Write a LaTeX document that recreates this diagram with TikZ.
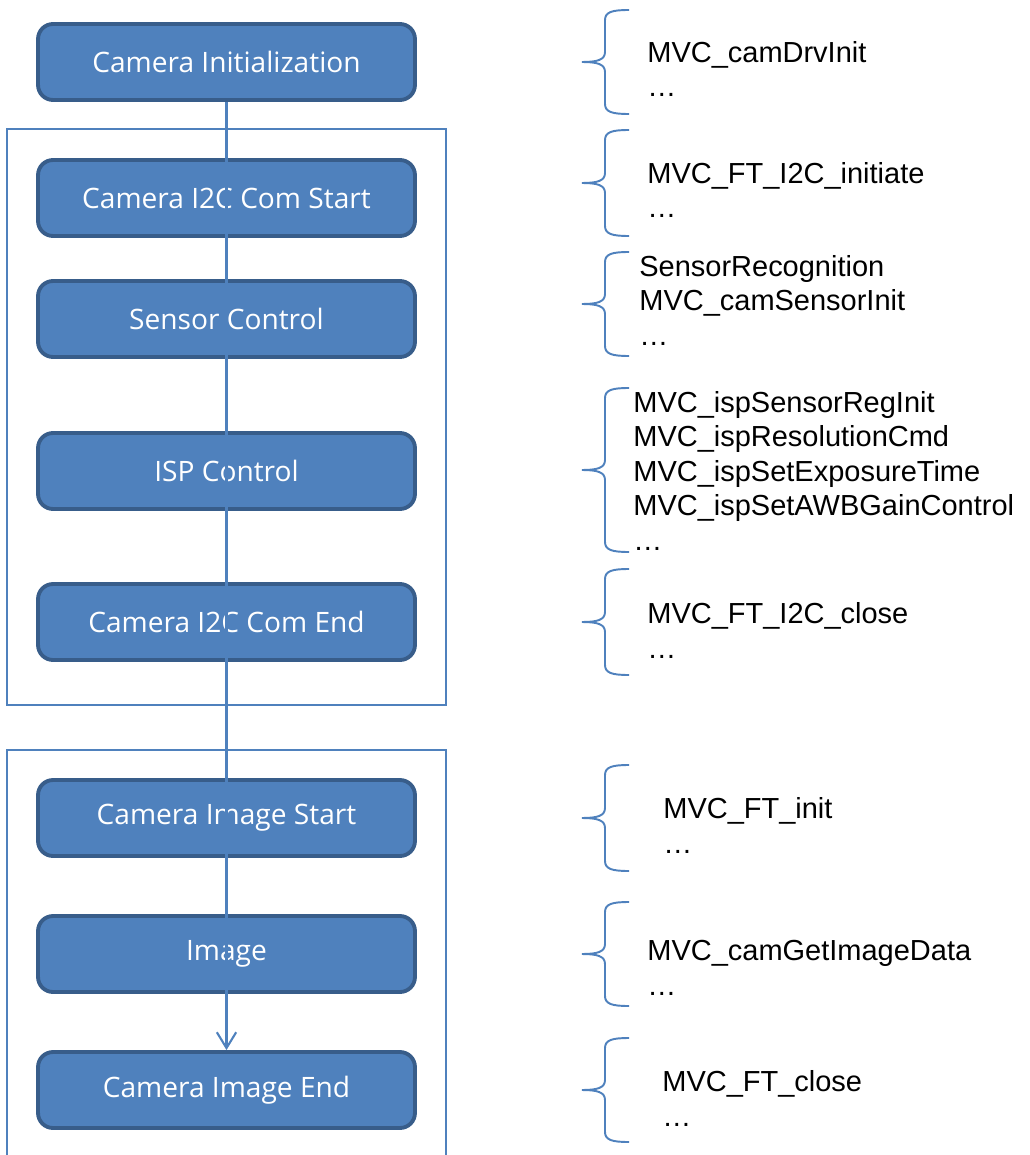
\documentclass[tikz,border=0pt]{standalone}
\usepackage{fontspec}
\setmainfont{Liberation Sans}
\newfontfamily\boxfont{Open Sans}
\usepackage{tikz}
\usetikzlibrary{arrows.meta}
\definecolor{stepfill}{HTML}{4F81BD}
\definecolor{stepedge}{HTML}{385D8A}

\begin{document}
\begin{tikzpicture}[x=0.02cm, y=-0.02cm,
    stepbox/.style={draw=stepedge, fill=stepfill, line width=2.2pt, rounded corners=0.3cm,
        minimum width=7.54cm, minimum height=1.52cm, inner sep=0pt, text=white,
        font=\boxfont\fontsize{16}{19}\selectfont},
    fnlist/.style={anchor=base west, align=left, inner sep=0pt,
        font=\fontsize{16.5}{19.56}\selectfont},
    group/.style={draw=stepfill, line width=1pt},
    flow/.style={draw=stepfill, line width=1.2pt, -{Straight Barb[length=9pt, width=11pt]}},
    pics/codebrace/.style={code={
        \draw[draw=stepfill, line width=1.1pt]
            (47,-#1) .. controls (30,-#1) and (23,-#1+2) .. (23,-#1+10)
            -- (23,-10) .. controls (23,-2) and (15,0) .. (0,0)
            .. controls (15,0) and (23,2) .. (23,10)
            -- (23,#1-10) .. controls (23,#1-2) and (30,#1) .. (47,#1);
    }}]
    \useasboundingbox (0,0) rectangle (1029,1155);

    % Groups
    \draw[group] (7,129) rectangle (446,705);
    \draw[group] (7,1160) -- (7,750) -- (446,750) -- (446,1160);

    % Steps
    \node[stepbox] (init)     at (226.5,62)   {Camera Initialization};
    \node[stepbox] (i2cstart) at (226.5,198)  {Camera I2C Com Start};
    \node[stepbox] (sensor)   at (226.5,319)  {Sensor Control};
    \node[stepbox] (isp)      at (226.5,471)  {ISP Control};
    \node[stepbox] (i2cend)   at (226.5,622)  {Camera I2C Com End};
    \node[stepbox] (imgstart) at (226.5,818)  {Camera Image Start};
    \node[stepbox] (image)    at (226.5,954)  {Image};
    \node[stepbox] (imgend)   at (226.5,1090) {Camera Image End};

    % Braces
    \pic at (582,62)   {codebrace=52};
    \pic at (582,183)  {codebrace=53};
    \pic at (582,304)  {codebrace=52};
    \pic at (582,470)  {codebrace=82};
    \pic at (582,622)  {codebrace=53};
    \pic at (582,818)  {codebrace=53};
    \pic at (582,954)  {codebrace=52};
    \pic at (582,1090) {codebrace=52};

    % Function lists (placed by the baseline of their last line)
    \node[fnlist] (initfn)     at (647,97)   {MVC\_camDrvInit\\\dots};
    \node[fnlist] (i2cstartfn) at (647,218)  {MVC\_FT\_I2C\_initiate\\\dots};
    \node[fnlist] (sensorfn)   at (639,345)  {SensorRecognition\\MVC\_camSensorInit\\\dots};
    \node[fnlist] (ispfn)      at (633,550)  {MVC\_ispSensorRegInit\\MVC\_ispResolutionCmd\\MVC\_ispSetExposureTime\\MVC\_ispSetAWBGainControl\\\dots};
    \node[fnlist] (i2cendfn)   at (647,658)  {MVC\_FT\_I2C\_close\\\dots};
    \node[fnlist] (imgstartfn) at (663,853)  {MVC\_FT\_init\\\dots};
    \node[fnlist] (imagefn)    at (647,995)  {MVC\_camGetImageData\\\dots};
    \node[fnlist] (imgendfn)   at (662,1126) {MVC\_FT\_close\\\dots};

    % Flow
    \draw[flow] (init.south) -- (imgend.north);
\end{tikzpicture}
\end{document}
